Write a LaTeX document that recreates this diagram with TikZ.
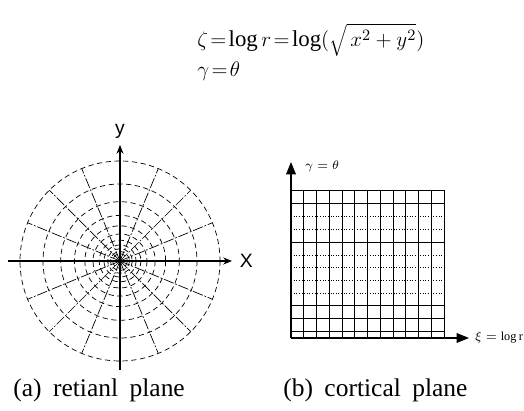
\documentclass[tikz,border=0pt]{standalone}
\usepackage{fontspec}
\setmainfont{Liberation Serif}
\setsansfont{Liberation Sans}
\usetikzlibrary{arrows.meta, positioning}

\begin{document}
\begin{tikzpicture}[
  x=0.02cm, y=-0.02cm,
  ring/.style={densely dashed, line width=0.4pt},
  ray/.style={dash pattern=on 6pt off 1pt on 1pt off 1pt, line width=0.4pt},
  axis/.style={-{Stealth[length=5pt, width=4pt]}, line width=0.6pt},
  bigaxis/.style={-{Triangle[length=7pt, width=5.5pt]}, line width=0.6pt},
  gridline/.style={line width=0.5pt},
  dotline/.style={densely dotted, line width=0.5pt},
  caption/.style={font=\fontsize{14.5}{16}\selectfont, anchor=base west, inner sep=0pt},
  eq/.style={font=\fontsize{13}{15}\selectfont, anchor=base west, inner sep=0pt},
  small/.style={font=\fontsize{7}{8}\selectfont}
]
\useasboundingbox (0,0) rectangle (524,411);

% equations
\node[eq] (eqA) at (197,47)
  {$\thickmuskip=2mu \zeta = \log r = \log(\sqrt{\,x^2+y^2})$};
\node[eq] (eqB) at (197,77)
  {$\thickmuskip=2mu \gamma = \theta$};

% (a) retinal plane
\coordinate (oL) at (120,261);
\foreach \k in {0,...,10}
  \draw[ring] (oL) circle ({100*0.77^\k});
\foreach \a in {22.5,45,...,337.5}
  \draw[ray] (oL) -- ++(\a:100);
\coordinate (lxA) at (8,261);
\coordinate (lxB) at (232,261);
\coordinate (lyA) at (120,370);
\coordinate (lyB) at (120,145);
\draw[axis] (lxA) -- (lxB);
\draw[axis] (lyA) -- (lyB);
\node[font=\sffamily\fontsize{11}{12}\selectfont, right=1pt of lxB] (xlab) {X};
\node[font=\sffamily\fontsize{11}{12}\selectfont, above=0pt of lyB] (ylab) {y};

% (b) cortical plane
\coordinate (oR) at (291,338);
\foreach \i in {1,...,12}
  \draw[gridline] ({291+12.75*\i},190) -- ({291+12.75*\i},338);
\foreach \y in {190,203,242,305,318,331}
  \draw[gridline] (291,\y) -- (444,\y);
\foreach \y in {216,229,255,267,280,293}
  \draw[dotline] (291,\y) -- (444,\y);
\coordinate (ryB) at (291,162);
\coordinate (rxB) at (469,338);
\draw[bigaxis] (oR) -- (ryB);
\draw[bigaxis] (oR) -- (rxB);
\node[small, anchor=west] (gamlab) at (299,166) {$\gamma=\theta$};
\node[small, right=0pt of rxB] (xilab) {$\xi=\log\mathrm{r}$};

% captions
\node[caption] (capA) at (13,397) {(a)\hspace{0.45em}retianl\hspace{0.45em}plane};
\node[caption] (capB) at (283,397) {(b)\hspace{0.45em}cortical\hspace{0.45em}plane};
\end{tikzpicture}
\end{document}
